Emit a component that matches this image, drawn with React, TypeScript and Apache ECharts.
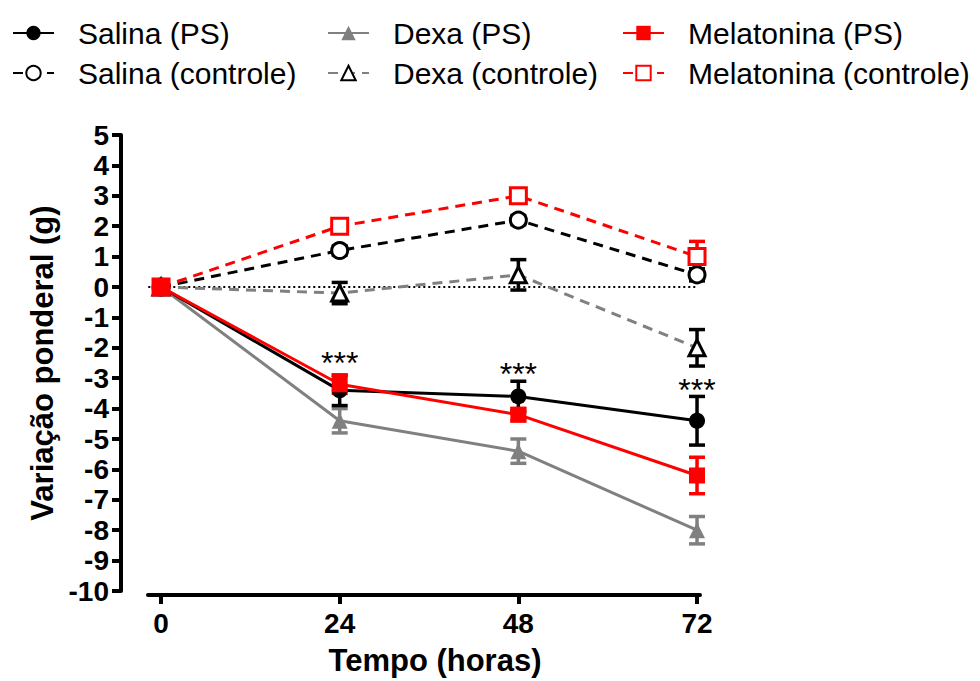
import React, { useEffect, useRef } from "react";
import * as echarts from "echarts";

const hours = [0, 24, 48, 72];

const salinaPS = [0, -3.4, -3.6, -4.4];
const salinaPSErr = [0, 0.5, 0.5, 0.8];
const dexaPS = [0, -4.4, -5.4, -8.0];
const dexaPSErr = [0, 0.4, 0.4, 0.45];
const melPS = [0, -3.2, -4.2, -6.2];
const melPSErr = [0, 0.3, 0.2, 0.6];

const salinaCtl = [0, 1.2, 2.2, 0.4];
const salinaCtlErr = [0, 0.15, 0.15, 0.2];
const dexaCtl = [0, -0.2, 0.4, -2.0];
const dexaCtlErr = [0, 0.35, 0.5, 0.6];
const melCtl = [0, 2.0, 3.0, 1.0];
const melCtlErr = [0, 0.15, 0.15, 0.5];

const starHours = [24, 48, 72];
const starY = [-2.5, -2.85, -3.4];
const starText = "***";

const zeroLineX = [-4.4, 72];
const zeroLineY = [0, 0];

const yTicksMin = -10;
const yTicksMax = 5;

const FONT = "'Liberation Sans', Arial, sans-serif";

function pts(vals: number[]) {
  return hours.map((h, i) => [h, vals[i]]);
}

function errData(vals: number[], errs: number[]) {
  return hours
    .map((h, i) => [h, vals[i] - errs[i], vals[i] + errs[i]])
    .filter((d, i) => errs[i] > 0);
}

function errSeries(name: string, vals: number[], errs: number[], color: string) {
  return {
    type: "custom",
    name,
    data: errData(vals, errs),
    z: 2,
    renderItem: (params: any, api: any) => {
      const x = api.value(0);
      const lo = api.value(1);
      const hi = api.value(2);
      const pHi = api.coord([x, hi]);
      const pLo = api.coord([x, lo]);
      const w = 8;
      const style = { stroke: color, lineWidth: 3.5 };
      return {
        type: "group",
        children: [
          { type: "line", shape: { x1: pHi[0], y1: pHi[1], x2: pLo[0], y2: pLo[1] }, style },
          { type: "line", shape: { x1: pHi[0] - w, y1: pHi[1], x2: pHi[0] + w, y2: pHi[1] }, style },
          { type: "line", shape: { x1: pLo[0] - w, y1: pLo[1], x2: pLo[0] + w, y2: pLo[1] }, style },
        ],
      };
    },
  };
}

function lineSeries(
  name: string,
  vals: number[],
  symbol: string,
  lineColor: string,
  dashed: boolean,
  fill: string,
  border: string
) {
  return {
    type: "line",
    name,
    data: pts(vals),
    symbol,
    symbolSize: 16,
    z: 3,
    clip: false,
    lineStyle: { color: lineColor, width: 3, type: dashed ? [10, 7] : "solid" },
    itemStyle: { color: fill, borderColor: border, borderWidth: fill === "#ffffff" ? 3 : 0, opacity: 1 },
    emphasis: { disabled: true },
  };
}

const legendBase = {
  orient: "vertical",
  top: 18,
  padding: 0,
  itemGap: 10,
  itemWidth: 41,
  itemHeight: 18,
  selectedMode: false,
  textStyle: {
    fontFamily: FONT,
    fontSize: 30,
    color: "#000",
    lineHeight: 30,
    padding: [0, 0, 0, 19],
  },
};

export default function App() {
  const ref = useRef<HTMLDivElement>(null);

  useEffect(() => {
    if (!ref.current) return;
    const chart = echarts.init(ref.current, undefined, { renderer: "svg" });

    const option: any = {
      animation: false,
      backgroundColor: "#ffffff",
      legend: [
        { ...legendBase, left: 12, data: ["Salina (PS)", "Salina (controle)"] },
        { ...legendBase, left: 327, data: ["Dexa (PS)", "Dexa (controle)"] },
        { ...legendBase, left: 622, data: ["Melatonina (PS)", "Melatonina (controle)"] },
      ],
      grid: { left: 148, right: 280, top: 135, bottom: 88, containLabel: false },
      xAxis: {
        type: "value",
        min: -1.75,
        max: 72.4,
        offset: 4,
        axisLine: { show: true, onZero: false, lineStyle: { color: "#000", width: 4 } },
        axisTick: { show: true, customValues: hours, length: 9, lineStyle: { color: "#000", width: 4 } },
        axisLabel: {
          customValues: hours,
          fontFamily: FONT,
          fontSize: 28,
          fontWeight: "bold",
          color: "#000",
          margin: 14,
        },
        splitLine: { show: false },
        name: "Tempo (horas)",
        nameLocation: "middle",
        nameGap: 50,
        nameTextStyle: {
          fontFamily: FONT,
          fontSize: 31,
          fontWeight: "bold",
          color: "#000",
          padding: [0, 0, 0, 22],
        },
      },
      yAxis: {
        type: "value",
        min: yTicksMin,
        max: yTicksMax,
        interval: 1,
        offset: 27,
        axisLine: { show: true, onZero: false, lineStyle: { color: "#000", width: 4 } },
        axisTick: { show: true, length: 9, lineStyle: { color: "#000", width: 4 } },
        axisLabel: {
          fontFamily: FONT,
          fontSize: 28,
          fontWeight: "bold",
          color: "#000",
          margin: 12,
        },
        splitLine: { show: false },
        name: "Variação ponderal (g)",
        nameLocation: "middle",
        nameRotate: 90,
        nameGap: 57,
        nameTextStyle: {
          fontFamily: FONT,
          fontSize: 31,
          fontWeight: "bold",
          color: "#000",
        },
      },
      series: [
        {
          type: "line",
          name: "zero",
          data: zeroLineX.map((x, i) => [x, zeroLineY[i]]),
          symbol: "none",
          clip: false,
          silent: true,
          z: 1,
          lineStyle: { color: "#000", width: 2, type: [2, 3] },
        },
        errSeries("err-dexaCtl", dexaCtl, dexaCtlErr, "#000000"),
        lineSeries("Dexa (controle)", dexaCtl, "triangle", "#808080", true, "#ffffff", "#000000"),
        errSeries("err-dexaPS", dexaPS, dexaPSErr, "#808080"),
        lineSeries("Dexa (PS)", dexaPS, "triangle", "#808080", false, "#808080", "#808080"),
        errSeries("err-salinaCtl", salinaCtl, salinaCtlErr, "#000000"),
        lineSeries("Salina (controle)", salinaCtl, "circle", "#000000", true, "#ffffff", "#000000"),
        errSeries("err-salinaPS", salinaPS, salinaPSErr, "#000000"),
        lineSeries("Salina (PS)", salinaPS, "circle", "#000000", false, "#000000", "#000000"),
        errSeries("err-melCtl", melCtl, melCtlErr, "#ff0000"),
        lineSeries("Melatonina (controle)", melCtl, "rect", "#ff0000", true, "#ffffff", "#ff0000"),
        errSeries("err-melPS", melPS, melPSErr, "#ff0000"),
        lineSeries("Melatonina (PS)", melPS, "rect", "#ff0000", false, "#ff0000", "#ff0000"),
        {
          type: "scatter",
          name: "sig",
          data: starHours.map((h, i) => [h, starY[i]]),
          symbolSize: 2,
          itemStyle: { color: "rgba(0,0,0,0)" },
          silent: true,
          z: 5,
          label: {
            show: true,
            position: "inside",
            formatter: () => starText,
            fontFamily: FONT,
            fontSize: 32,
            color: "#000000",
            opacity: 1,
            textBorderWidth: 0,
          },
        },
      ],
    };

    chart.setOption(option);
    return () => chart.dispose();
  }, []);

  return (
    <div
      ref={ref}
      style={{ position: "fixed", left: 0, top: 0, width: 980, height: 681, background: "#fff" }}
    />
  );
}
